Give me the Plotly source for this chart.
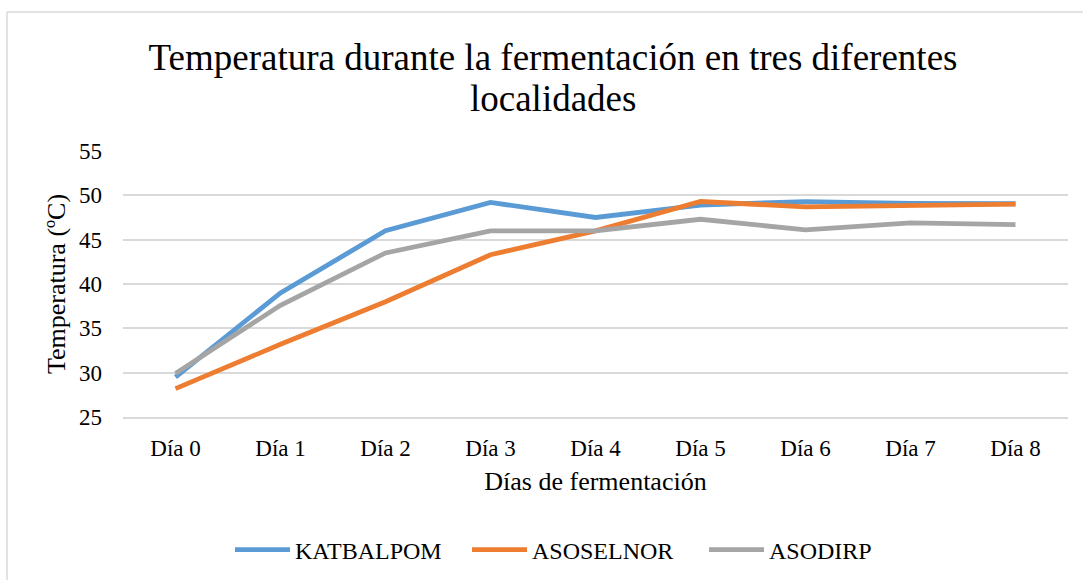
import plotly.graph_objects as go

dias = ["Día 0", "Día 1", "Día 2", "Día 3", "Día 4", "Día 5", "Día 6", "Día 7", "Día 8"]
katbalpom = [29.5, 39.0, 46.0, 49.2, 47.5, 48.9, 49.3, 49.1, 49.05]
asoselnor = [28.2, 33.2, 38.0, 43.3, 46.0, 49.3, 48.7, 48.9, 49.0]
asodirp = [29.9, 37.6, 43.5, 46.0, 46.0, 47.3, 46.1, 46.9, 46.7]

series = [("KATBALPOM", katbalpom, "#5B9BD5"),
          ("ASOSELNOR", asoselnor, "#ED7D31"),
          ("ASODIRP", asodirp, "#A5A5A5")]

title_lines = ["Temperatura durante la fermentación en tres diferentes", "localidades"]

FONT = "Liberation Serif, Times New Roman, serif"
W, H = 1083, 580
ML, MR, MT, MB = 123, 15, 151, 163

fig = go.Figure()
for name, vals, col in series:
    fig.add_trace(go.Scatter(x=dias, y=vals, name=name, mode="lines",
                             line=dict(color=col, width=4.8)))

pw = W - ML - MR
ph = H - MT - MB
def px2x(px):
    return (px - ML) / pw
def py2y(py):
    return (H - MB - py) / ph

border = "#D9D9D9"
fig.add_shape(type="line", xref="paper", yref="paper",
              x0=px2x(7), x1=px2x(1090), y0=py2y(12), y1=py2y(12),
              line=dict(color=border, width=1.5))
fig.add_shape(type="line", xref="paper", yref="paper",
              x0=px2x(7), x1=px2x(7), y0=py2y(12), y1=py2y(590),
              line=dict(color=border, width=1.5))

fig.add_annotation(text=title_lines[1], xref="paper", yref="paper",
                   x=px2x(553), y=py2y(98), xanchor="center", yanchor="middle",
                   showarrow=False, font=dict(family=FONT, size=37, color="#000000"))

fig.update_layout(
    width=W, height=H,
    margin=dict(l=ML, r=MR, t=MT, b=MB, autoexpand=False),
    paper_bgcolor="white", plot_bgcolor="white",
    font=dict(family=FONT, color="#000000", size=23),
    title=dict(text=title_lines[0],
               x=553 / W, xanchor="center", xref="container",
               y=1 - 57 / H, yanchor="middle", yref="container",
               font=dict(family=FONT, size=37, color="#000000")),
    xaxis=dict(type="category", range=[-0.5, 8.5], showgrid=False,
               showline=True, linecolor=border, linewidth=1.5,
               zeroline=False, ticks="", ticklabelstandoff=10,
               tickfont=dict(family=FONT, size=23),
               title=dict(text="Días de fermentación", standoff=11,
                          font=dict(family=FONT, size=26))),
    yaxis=dict(range=[25, 55], dtick=5, tick0=25, showgrid=True,
               gridcolor=border, gridwidth=1.5, zeroline=False, showline=False,
               ticks="", ticklabelstandoff=20, tickfont=dict(family=FONT, size=23),
               title=dict(text="Temperatura (ºC)", standoff=5,
                          font=dict(family=FONT, size=26))),
    showlegend=True,
    legend=dict(orientation="h", x=230 / W, xref="container", xanchor="left",
                y=1 - 550 / H, yref="container", yanchor="middle",
                font=dict(family=FONT, size=24, color="#000000"),
                itemwidth=55, entrywidth=167, tracegroupgap=0,
                bgcolor="rgba(0,0,0,0)"),
)

fig.write_html("out.html", post_script="document.body.style.margin='0';",
               config={"displayModeBar": False})
